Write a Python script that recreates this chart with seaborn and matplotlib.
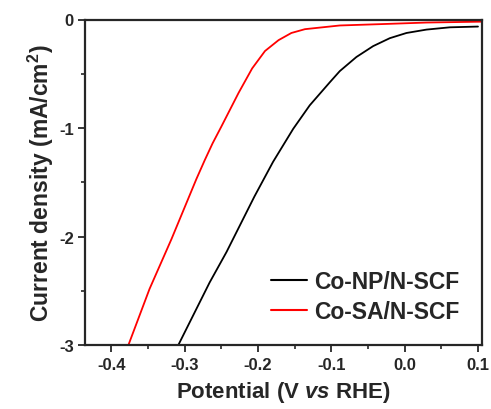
import numpy as np
import pandas as pd
import matplotlib
matplotlib.use("Agg")
import matplotlib.pyplot as plt
import seaborn as sns
from matplotlib.ticker import MultipleLocator

# Data
np_potential = [-0.309, -0.266, -0.243, -0.205, -0.1795, -0.152, -0.1295, -0.102,
                -0.0885, -0.0658, -0.043, -0.0203, 0.0025, 0.0297, 0.0615, 0.100]
np_current = [-3.00, -2.42, -2.14, -1.63, -1.31, -1.006, -0.79, -0.577,
              -0.475, -0.345, -0.245, -0.172, -0.124, -0.093, -0.072, -0.065]
sa_potential = [-0.377, -0.348, -0.318, -0.284, -0.2727, -0.262, -0.250, -0.2265, -0.208,
                -0.1905, -0.172, -0.1545, -0.136, -0.0885, -0.030, 0.030, 0.105]
sa_current = [-3.00, -2.48, -2.02, -1.467, -1.295, -1.14, -0.985, -0.675, -0.45,
              -0.29, -0.19, -0.124, -0.089, -0.055, -0.042, -0.028, -0.020]
series_names = ["Co-NP/N-SCF", "Co-SA/N-SCF"]
colors = ["#000000", "#ff0000"]
x_ticks = [-0.4, -0.3, -0.2, -0.1, 0.0, 0.1]
y_ticks = [0, -1, -2, -3]

df = pd.concat([
    pd.DataFrame({"Potential": np_potential, "Current": np_current, "Sample": series_names[0]}),
    pd.DataFrame({"Potential": sa_potential, "Current": sa_current, "Sample": series_names[1]}),
], ignore_index=True)

sns.set_style("ticks")
plt.rcParams["font.family"] = ["Liberation Sans", "DejaVu Sans"]
plt.rcParams["font.weight"] = "bold"
plt.rcParams["axes.labelweight"] = "bold"
plt.rcParams["mathtext.fontset"] = "custom"
plt.rcParams["mathtext.rm"] = "Liberation Sans:bold"
plt.rcParams["mathtext.bf"] = "Liberation Sans:bold"
plt.rcParams["mathtext.it"] = "Liberation Sans:bold:italic"

fig = plt.figure(figsize=(4.91, 4.10), dpi=100)
ax = fig.add_axes([0.1731, 0.1549, 0.8086, 0.7951])

sns.lineplot(data=df, x="Potential", y="Current", hue="Sample", palette=colors,
             hue_order=series_names, sort=False, estimator=None, linewidth=1.3, ax=ax)

ax.set_xlim(-0.436, 0.1055)
ax.set_ylim(-3, 0)
ax.set_xticks(x_ticks)
ax.set_xticklabels([f"{v:.1f}" for v in x_ticks])
ax.set_yticks(y_ticks)
ax.set_yticklabels([f"{v:d}" for v in y_ticks])
ax.xaxis.set_minor_locator(MultipleLocator(0.05))
ax.yaxis.set_minor_locator(MultipleLocator(0.5))
ax.tick_params(axis="both", which="major", direction="out", length=5, width=1.3,
               labelsize=12, pad=3)
ax.tick_params(axis="both", which="minor", direction="out", length=3, width=1.2)
for lbl in ax.get_xticklabels() + ax.get_yticklabels():
    lbl.set_fontweight("bold")
for sp in ax.spines.values():
    sp.set_visible(True)
    sp.set_linewidth(1.6)

ax.set_xlabel(r"Potential (V $\mathit{vs}$ RHE)", fontsize=16, fontweight="bold", labelpad=5)
ax.set_ylabel(r"Current density (mA/cm$^{\mathbf{2}}$)", fontsize=16.5, fontweight="bold", labelpad=2)

leg = ax.legend(loc="lower right", frameon=False, handlelength=1.55,
                handletextpad=0.3, labelspacing=0.3, borderaxespad=0.6,
                prop={"weight": "bold", "size": 16.5})
for line in leg.get_lines():
    line.set_linewidth(1.5)

fig.savefig("out.png", dpi=100)
